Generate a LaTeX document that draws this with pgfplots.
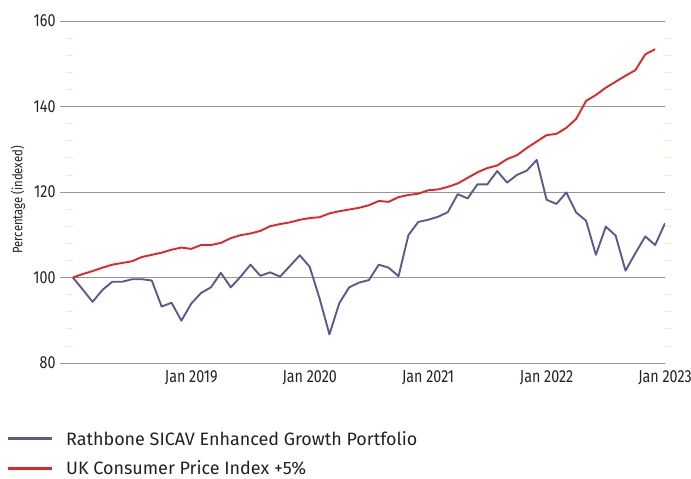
\documentclass[border=0pt]{standalone}
\usepackage{fontspec}
\setmainfont{Fira Sans}[FakeStretch=0.82]
\newfontfamily\legfont{Fira Sans}
\usepackage{pgfplots}
\pgfplotsset{compat=1.18}
\definecolor{rpurple}{RGB}{94,88,142}
\definecolor{rred}{RGB}{226,38,40}
\definecolor{gridc}{RGB}{150,150,150}
\definecolor{txt}{RGB}{34,34,34}
\definecolor{minorc}{RGB}{236,236,200}
\begin{document}
\begin{tikzpicture}
\begin{axis}[
  width=605bp, height=342bp, scale only axis,
  xmin=-1.3, xmax=60, ymin=80, ymax=160,
  axis line style={draw=none},
  ytick={80,100,120,140,160},
  minor ytick={84,88,92,96,104,108,112,116,124,128,132,136,144,148,152,156},
  xtick={12,24,36,48,60},
  xticklabels={Jan 2019,Jan 2020,Jan 2021,Jan 2022,Jan 2023},
  major tick length=0pt,
  minor tick length=7bp,
  tick align=inside,
  minor tick style={draw=minorc, line width=0.8bp, xshift=6bp},
  ymajorgrids, major grid style={draw=gridc, line width=0.9bp},
  tick label style={font=\fontsize{17.5}{20}\selectfont, text=txt},
  /pgf/number format/assume math mode=true,
  yticklabel style={xshift=-1bp},
  xticklabel style={yshift=-4bp},
  ylabel={Percentage (indexed)},
  ylabel style={font=\fontsize{13.8}{16}\selectfont, text=txt, at={(rel axis cs:0,0.477)}, anchor=center, yshift=42bp},
  legend cell align=left,
  legend style={draw=none, fill=none, at={(0,0)}, anchor=north west, xshift=-57bp, yshift=-64bp,
    font=\legfont\fontsize{18}{22}\selectfont, text=txt, row sep=10bp,
    /tikz/every odd column/.append style={column sep=11bp}},
  legend image code/.code={\draw[#1, line width=3bp] (0bp,0bp) -- (44bp,0bp);},
]
\coordinate (O) at (rel axis cs:0,0);
\addplot[rpurple, line width=1.9bp, line join=round] coordinates {
(0,100) (1,97.2) (2,94.3) (3,97.1) (4,99.0) (5,99.0) (6,99.6) (7,99.6) (8,99.3) (9,93.2)
(10,94.1) (11,89.9) (12,93.9) (13,96.4) (14,97.7) (15,101.1) (16,97.7) (17,100.2) (18,103.0) (19,100.4)
(20,101.2) (21,100.2) (22,102.7) (23,105.2) (24,102.5) (25,95.1) (26,86.7) (27,94.0) (28,97.7) (29,98.8)
(30,99.4) (31,103.0) (32,102.3) (33,100.3) (34,109.9) (35,113.0) (36,113.5) (37,114.2) (38,115.3) (39,119.5)
(40,118.5) (41,121.8) (42,121.8) (43,124.9) (44,122.2) (45,124.0) (46,125.0) (47,127.5) (48,118.2) (49,117.2)
(50,119.9) (51,115.2) (52,113.3) (53,105.3) (54,111.9) (55,109.8) (56,101.6) (57,105.7) (58,109.6) (59,107.6)
(60,112.7)
};
\addlegendentry{Rathbone SICAV Enhanced Growth Portfolio}
\addplot[rred, line width=1.9bp, line join=round] coordinates {
(0,100) (1,100.8) (2,101.5) (3,102.3) (4,103.0) (5,103.4) (6,103.8) (7,104.8) (8,105.3) (9,105.8)
(10,106.5) (11,107.0) (12,106.7) (13,107.6) (14,107.6) (15,108.1) (16,109.2) (17,109.9) (18,110.3) (19,110.9)
(20,112.0) (21,112.5) (22,112.9) (23,113.5) (24,113.9) (25,114.1) (26,115.0) (27,115.5) (28,115.9) (29,116.3)
(30,116.9) (31,117.9) (32,117.7) (33,118.8) (34,119.3) (35,119.6) (36,120.4) (37,120.6) (38,121.2) (39,122.0)
(40,123.3) (41,124.6) (42,125.6) (43,126.2) (44,127.7) (45,128.6) (46,130.3) (47,131.8) (48,133.3) (49,133.6)
(50,135.0) (51,137.1) (52,141.3) (53,142.7) (54,144.4) (55,145.8) (56,147.2) (57,148.5) (58,152.2) (59,153.4)
};
\addlegendentry{UK Consumer Price Index +5\%}
\end{axis}
\pgfresetboundingbox
\path (O) ++(-60bp,-116bp) rectangle ++(691bp,479bp);
\end{tikzpicture}
\end{document}
